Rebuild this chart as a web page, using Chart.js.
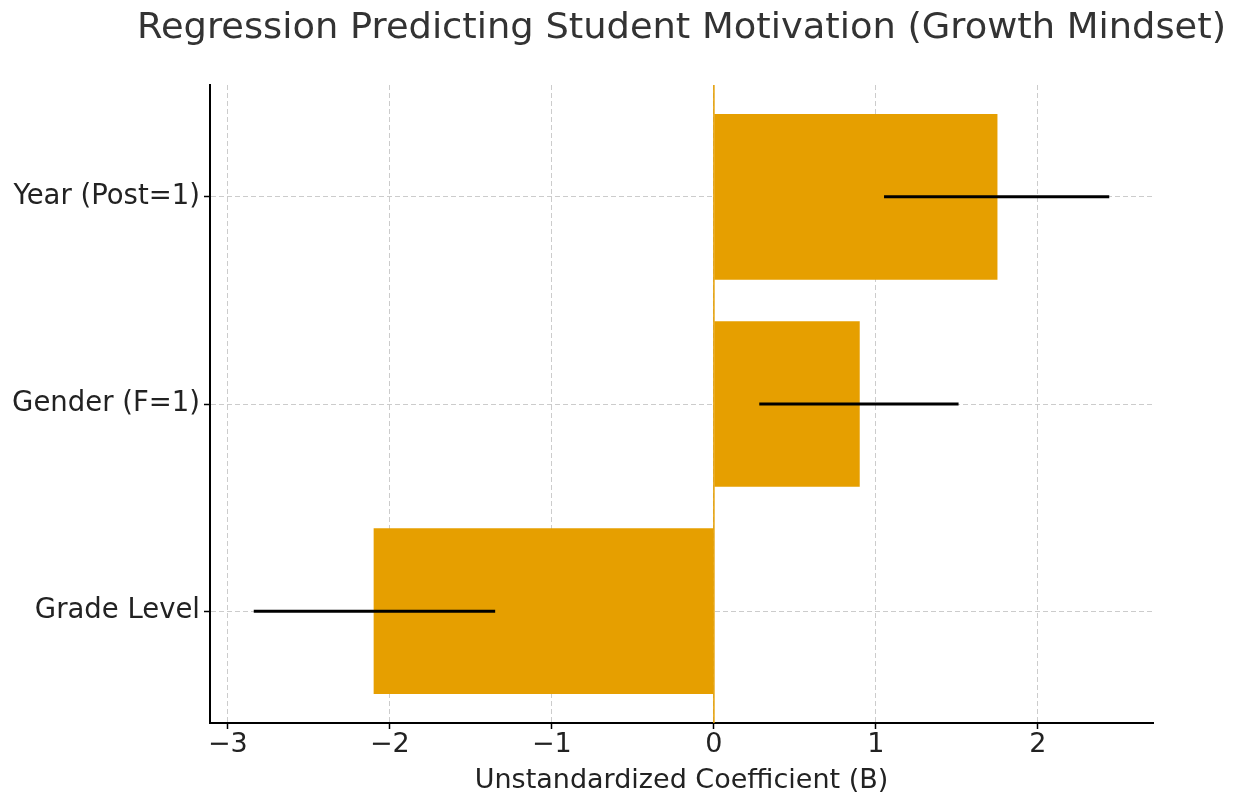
<!DOCTYPE html>
<html>
<head>
<meta charset="utf-8">
<script src="https://cdn.jsdelivr.net/npm/chart.js@4.4.0/dist/chart.umd.min.js"></script>
<style>
html, body { margin: 0; padding: 0; background: #fff; }
</style>
</head>
<body>
<canvas id="coef" width="1241" height="798"></canvas>
<script>
const labels = ['Grade Level', 'Gender (F=1)', 'Year (Post=1)'];
const coefs = [-2.10, 0.90, 1.75];
const ci_low = [-2.84, 0.28, 1.05];
const ci_high = [-1.35, 1.51, 2.44];
const x_ticks = [-3, -2, -1, 0, 1, 2];
const title_text = 'Regression Predicting Student Motivation (Growth Mindset)';

const orange = '#E69F00';
const font_family = '"DejaVu Sans", sans-serif';

// zero line + error bars on top of the bars
const errorBars = {
    id: 'errorBars',
    afterDatasetsDraw(chart) {
        const { ctx, chartArea, scales: { x, y } } = chart;
        ctx.save();
        const x0 = x.getPixelForValue(0);
        ctx.strokeStyle = orange;
        ctx.lineWidth = 1.5;
        ctx.beginPath();
        ctx.moveTo(x0, chartArea.top);
        ctx.lineTo(x0, chartArea.bottom);
        ctx.stroke();

        ctx.strokeStyle = '#000';
        ctx.lineWidth = 3;
        labels.forEach((l, i) => {
            const py = y.getPixelForValue(i);
            ctx.beginPath();
            ctx.moveTo(x.getPixelForValue(ci_low[i]), py);
            ctx.lineTo(x.getPixelForValue(ci_high[i]), py);
            ctx.stroke();
        });
        ctx.restore();
    }
};

// title centred over the plot area, a bit wider than the plot itself
const wideTitle = {
    id: 'wideTitle',
    afterDraw(chart) {
        const { ctx, chartArea } = chart;
        const cx = (chartArea.left + chartArea.right) / 2;
        ctx.save();
        ctx.fillStyle = '#333';
        ctx.font = '35.5px ' + font_family;
        ctx.textAlign = 'center';
        ctx.textBaseline = 'alphabetic';
        const w = ctx.measureText(title_text).width;
        ctx.translate(cx, 38);
        ctx.scale(1089 / w, 1);
        ctx.fillText(title_text, 0, 0);
        ctx.restore();
    }
};

const ctx_coef = document.getElementById('coef').getContext('2d');
const Chart_coef = new Chart(ctx_coef, {
    type: 'bar',
    data: {
        datasets: [{
            data: labels.map((l, i) => ({ x: coefs[i], y: i })),
            backgroundColor: orange,
            barPercentage: 0.8,
            categoryPercentage: 1.0,
        }]
    },
    options: {
        responsive: false,
        animation: false,
        indexAxis: 'y',
        layout: { padding: { left: 0, right: 88, top: 85, bottom: 0 } },
        scales: {
            x: {
                type: 'linear',
                min: -3.11,
                max: 2.71,
                offset: false,
                afterBuildTicks: (scale) => { scale.ticks = x_ticks.map(v => ({ value: v })); },
                afterFit: (scale) => { scale.height = 75; },
                ticks: {
                    color: '#222',
                    padding: 0,
                    font: { family: font_family, size: 27 },
                    callback: (v) => String(v).replace('-', '\u2212'),
                },
                grid: {
                    color: '#cccccc',
                    lineWidth: 1,
                    offset: false,
                    tickLength: 6,
                    tickColor: '#000',
                    tickWidth: 1.5,
                },
                border: { color: '#000', width: 2, dash: [5, 3] },
                title: {
                    display: true,
                    text: 'Unstandardized Coefficient (B)',
                    color: '#222',
                    font: { family: font_family, size: 27 },
                    padding: { top: 0, bottom: 1 },
                },
            },
            y: {
                type: 'linear',
                min: -0.54,
                max: 2.54,
                offset: false,
                afterBuildTicks: (scale) => { scale.ticks = labels.map((l, i) => ({ value: i })); },
                afterFit: (scale) => { scale.width = 210; },
                ticks: {
                    color: '#222',
                    padding: 4,
                    font: { family: font_family, size: 27.5 },
                    callback: (v) => labels[v],
                },
                grid: {
                    color: '#cccccc',
                    lineWidth: 1,
                    offset: false,
                    tickLength: 6,
                    tickColor: '#000',
                    tickWidth: 1.5,
                },
                border: { color: '#000', width: 2, dash: [5, 3] },
            },
        },
        plugins: {
            legend: { display: false },
            tooltip: { enabled: false },
            title: { display: false },
        }
    },
    plugins: [errorBars, wideTitle]
});
</script>
</body>
</html>
